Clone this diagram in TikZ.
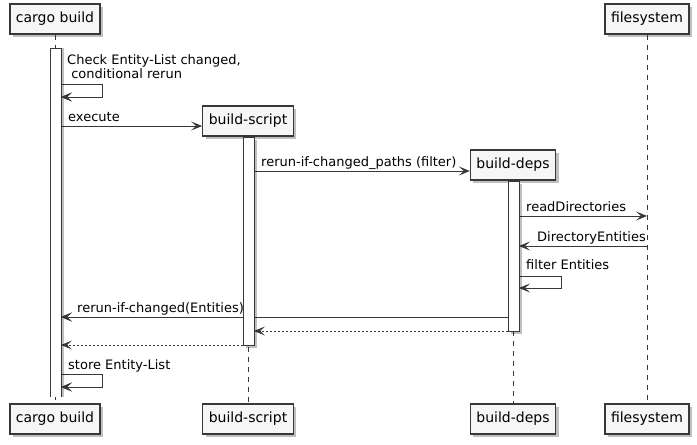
\documentclass[tikz,border=0pt]{standalone}
\usepackage{fontspec}
\setmainfont{DejaVu Sans}
\usetikzlibrary{arrows.meta,shadows}
\definecolor{ln}{HTML}{383838}
\definecolor{boxfill}{HTML}{F6F6F6}
\tikzset{
  part/.style={draw=ln, line width=1.2pt, fill=boxfill, minimum height=30pt,
    minimum width=82pt, inner xsep=6pt, inner ysep=0pt,
    font=\fontsize{14}{16}\selectfont,
    drop shadow={shadow xshift=3pt, shadow yshift=-3pt, fill=black, opacity=0.25}},
  lifeline/.style={draw=ln, line width=0.9pt, dash pattern=on 5pt off 5pt},
  actbar/.style={draw=ln, line width=1pt, fill=white,
    drop shadow={shadow xshift=2.5pt, shadow yshift=-2.5pt, fill=black, opacity=0.25}},
  tip/.style={-{Stealth[length=11pt,width=9pt,inset=5pt]}},
  msg/.style={draw=ln, line width=1pt, tip},
  ret/.style={draw=ln, line width=1pt, dash pattern=on 2pt off 2pt, tip},
  lbl/.style={anchor=base west, inner sep=0pt, font=\fontsize{13}{15}\selectfont, text=black},
}
\begin{document}
\begin{tikzpicture}[x=1pt,y=-1pt]
\useasboundingbox (0,0) rectangle (697,445);
% participants
\node[part] (cbT) at (55,19) {cargo build};
\node[part] (bsT) at (248,121) {build-script};
\node[part] (bdT) at (513,165) {build-deps};
\node[part] (fsT) at (647,19) {filesystem};
\node[part] (cbB) at (55,419) {cargo build};
\node[part] (bsB) at (248,419) {build-script};
\node[part] (bdB) at (513,419) {build-deps};
\node[part] (fsB) at (647,419) {filesystem};
% lifelines
\draw[lifeline] (cbT.south) -- (cbB.north);
\draw[lifeline] (bsT.south) -- (bsB.north);
\draw[lifeline] (bdT.south) -- (bdB.north);
\draw[lifeline] (fsT.south) -- (fsB.north);
% messages
\coordinate (m1a) at (61,84); \coordinate (m1b) at (102,84);
\coordinate (m1c) at (102,97); \coordinate (m1d) at (61,97);
\draw[msg] (m1a) -- (m1b) -- (m1c) -- (m1d);
\node[lbl] (t1a) at (67,64) {Check Entity-List changed,};
\node[lbl] (t1b) at (67,78) {\ conditional rerun};

\coordinate (m2a) at (61,126);
\draw[msg] (m2a) -- (bsT.west |- m2a);
\node[lbl] (t2) at (68,121) {execute};

\coordinate (m3a) at (254,171);
\draw[msg] (m3a) -- (bdT.west |- m3a);
\node[lbl] (t3) at (261,166) {rerun-if-changed\_paths (filter)};

\coordinate (m4a) at (519,216); \coordinate (m4b) at (647,216);
\draw[msg] (m4a) -- (m4b);
\node[lbl] (t4) at (526,211) {readDirectories};

\coordinate (m5a) at (647,246); \coordinate (m5b) at (519,246);
\draw[msg] (m5a) -- (m5b);
\node[lbl] (t5) at (537,241) {DirectoryEntities};

\coordinate (m6a) at (519,276); \coordinate (m6b) at (561,276);
\coordinate (m6c) at (561,288); \coordinate (m6d) at (519,288);
\draw[msg] (m6a) -- (m6b) -- (m6c) -- (m6d);
\node[lbl] (t6) at (526,269) {filter Entities};

\coordinate (m7a) at (508,317); \coordinate (m7b) at (61,317);
\coordinate (m7c) at (80,317);
\draw[msg] (m7a) -- (m7b);
\node[lbl] (t7) at (77,312) {rerun-if-changed(Entities)};

\coordinate (m8a) at (508,331); \coordinate (m8b) at (254,331);
\draw[ret] (m8a) -- (m8b);

\coordinate (m9a) at (243,345); \coordinate (m9b) at (61,345);
\draw[ret] (m9a) -- (m9b);

\coordinate (m10a) at (61,374); \coordinate (m10b) at (102,374);
\coordinate (m10c) at (102,387); \coordinate (m10d) at (61,387);
\draw[msg] (m10a) -- (m10b) -- (m10c) -- (m10d);
\node[lbl] (t10) at (68,369) {store Entity-List};
% activation bars
\fill[white, drop shadow={shadow xshift=2.5pt, shadow yshift=0pt, fill=black, opacity=0.25}] (50,48) rectangle (61,397);
\draw[ln, line width=1pt] (50,397) -- (50,48) -- (61,48) -- (61,397);
\draw[actbar] (243,137) rectangle (254,345);
\draw[actbar] (508,181) rectangle (519,331);
% redraw arrow tips that end on bars
\draw[msg] (m1c) -- (m1d);
\draw[msg] (m10c) -- (m10d);
\draw[msg] (m7c) -- (m7b);
\end{tikzpicture}
\end{document}
